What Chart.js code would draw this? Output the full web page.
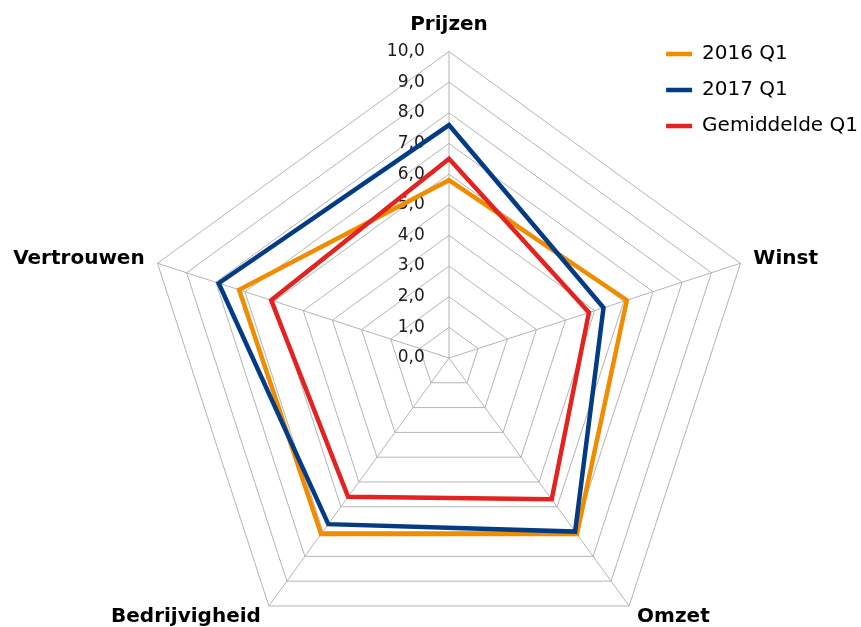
<!DOCTYPE html>
<html>
<head>
<meta charset="utf-8">
<script src="https://cdn.jsdelivr.net/npm/chart.js@4/dist/chart.umd.min.js"></script>
<style>
  html, body { margin: 0; overflow: hidden; background: #fff; }
  #wrap { position: relative; width: 861px; height: 627px; overflow: hidden; }
  /* canvas is a bit bigger than the window so the labels can hang at the edges like the original */
  #radarChart { position: absolute; left: -16px; top: 0; }
</style>
</head>
<body>
<div id="wrap"><canvas id="radarChart" width="930" height="684"></canvas></div>
<script>
const categories = ['Prijzen', 'Winst', 'Omzet', 'Bedrijvigheid', 'Vertrouwen'];
const seriesNames = ['2016 Q1', '2017 Q1', 'Gemiddelde Q1'];
const q1_2016 = [5.8, 6.1, 7.1, 7.1, 7.2];
const q1_2017 = [7.6, 5.3, 7.0, 6.7, 7.9];
const gemiddeldeQ1 = [6.5, 4.8, 5.7, 5.6, 6.1];
const seriesColors = ['#F08C00', '#033C85', '#E2231F'];

const fontFamily = "'DejaVu Sans', Verdana, sans-serif";
Chart.defaults.font.family = fontFamily;

// ticks sit left of the vertical axis, like the original; pad with trailing spaces
const measureCtx = document.createElement('canvas').getContext('2d');
measureCtx.font = '17px ' + fontFamily;
const tickGap = 24;
function padTick(text) {
    const w = measureCtx.measureText(text).width;
    const sp = measureCtx.measureText(' ').width;
    return text + ' '.repeat(Math.round((2 * tickGap + w) / sp));
}

// move the legend box to the top right corner of the visible window
const legendRightEdge = 884;
const legendToRight = {
    id: 'legendToRight',
    afterLayout(chart) {
        const legend = chart.legend;
        legend.left = legendRightEdge - legend.width;
        legend.right = legendRightEdge;
    }
};

const ctx = document.getElementById('radarChart').getContext('2d');
const radarChart = new Chart(ctx, {
    type: 'radar',
    data: {
        labels: categories,
        datasets: [q1_2016, q1_2017, gemiddeldeQ1].map(function (values, i) {
            return {
                label: seriesNames[i],
                data: values,
                borderColor: seriesColors[i],
                backgroundColor: seriesColors[i],
                order: 2 - i
            };
        })
    },
    options: {
        responsive: false,
        animation: false,
        layout: {
            padding: { top: 18, bottom: 0, left: 0, right: 0 }
        },
        elements: {
            line: { borderWidth: 4.5, fill: false, tension: 0, borderJoinStyle: 'miter' },
            point: { radius: 0, hoverRadius: 0 }
        },
        scales: {
            r: {
                min: -0.001,
                max: 10,
                ticks: {
                    stepSize: 1,
                    showLabelBackdrop: false,
                    color: '#1a1a1a',
                    font: { size: 17 },
                    callback: function (value) {
                        return padTick(Math.max(0, value).toFixed(1).replace('.', ','));
                    }
                },
                grid: { color: '#b4b4b4', lineWidth: 1 },
                angleLines: { color: '#b4b4b4', lineWidth: 1 },
                pointLabels: {
                    color: '#000',
                    padding: function (c) {
                        return c.index === 0 ? 16 : 3;
                    },
                    font: { size: 20, weight: 'bold', lineHeight: 0 }
                }
            }
        },
        plugins: {
            legend: {
                position: 'chartArea',
                align: 'start',
                title: { display: true, text: '', font: { size: 10 }, padding: { top: 16, bottom: 0 } },
                labels: {
                    boxWidth: 26,
                    boxHeight: 0,
                    padding: 16,
                    color: '#000',
                    font: { size: 20 },
                    sort: function (a, b) {
                        return a.datasetIndex - b.datasetIndex;
                    }
                }
            },
            tooltip: { enabled: false }
        }
    },
    plugins: [legendToRight]
});
</script>
</body>
</html>
